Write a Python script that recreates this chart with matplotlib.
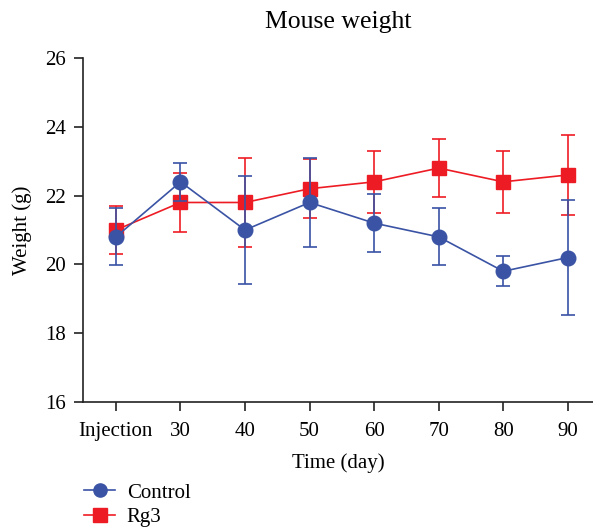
import matplotlib
matplotlib.use("Agg")
import matplotlib.pyplot as plt
from matplotlib.lines import Line2D

categories = ["Injection", "30", "40", "50", "60", "70", "80", "90"]
control_mean = [20.8, 22.4, 21.0, 21.8, 21.2, 20.8, 19.8, 20.2]
control_err = [0.83, 0.55, 1.57, 1.3, 0.85, 0.83, 0.44, 1.66]
rg3_mean = [21.0, 21.8, 21.8, 22.2, 22.4, 22.8, 22.4, 22.6]
rg3_err = [0.7, 0.85, 1.3, 0.85, 0.9, 0.84, 0.9, 1.15]

plt.rcParams['font.family'] = ['Liberation Serif', 'DejaVu Serif']

blue = '#3a53a4'
red = '#ed1c24'

fig = plt.figure(figsize=(5.93, 5.29), dpi=100)
ax = fig.add_axes([83/593, 1-402/529, 1-83/593, (402-58)/529])

x = list(range(len(categories)))
ax.errorbar(x, rg3_mean, yerr=rg3_err, color=red, marker='s', markersize=10.5,
            linewidth=1.2, elinewidth=1.2, capsize=5, capthick=1.2, zorder=2)
ax.errorbar(x, control_mean, yerr=control_err, color=blue, marker='o', markersize=10.5,
            linewidth=1.2, elinewidth=1.2, capsize=5, capthick=1.2, zorder=3)

ax.set_xlim(-0.51, 7.39)
ax.set_ylim(16, 26)
ax.set_yticks([16, 18, 20, 22, 24, 26])
ax.set_xticks(x)
ax.set_xticklabels(categories)
for s in ['top', 'right']:
    ax.spines[s].set_visible(False)
for s in ['left', 'bottom']:
    ax.spines[s].set_linewidth(1.2)
    ax.spines[s].set_color('#222222')
ax.tick_params(direction='out', length=6.5, width=1.2, labelsize=15, colors='#222222', labelcolor='black', pad=6)
ax.tick_params(axis='x', pad=8)

ax.set_xlabel("Time (day)", fontsize=15, labelpad=9)
ax.set_ylabel("Weight (g)", fontsize=15, labelpad=9)
fig.text(0.57, 1-22/529, "Mouse weight", ha='center', va='center', fontsize=18.5)

handles = [Line2D([], [], color=blue, marker='o', markersize=9.5, linewidth=1.2),
           Line2D([], [], color=red, marker='s', markersize=9.5, linewidth=1.2)]
fig.legend(handles, ["Control", "Rg3"], loc='upper left', bbox_to_anchor=(84/593, 1-483/529),
           frameon=False, fontsize=15, handlelength=1.5, handletextpad=0.55, labelspacing=0.25,
           borderaxespad=0, borderpad=0)

fig.savefig("out.png", dpi=100)
